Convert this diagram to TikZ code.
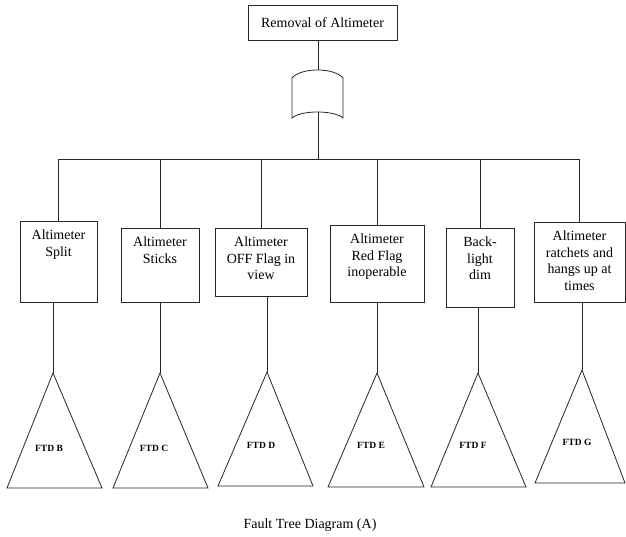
\documentclass[tikz,border=0pt]{standalone}
\usepackage{fontspec}
\setmainfont{Liberation Serif}
\usepackage{tikz}
\usetikzlibrary{positioning, calc}

\begin{document}
\begin{tikzpicture}[x=1pt, y=-1pt, line width=0.8pt, draw=black!85,
    evt/.style={draw, rectangle, inner sep=0pt},
    evtext/.style={anchor=north, yshift=-6pt, inner sep=3pt, align=center, font=\fontsize{14}{16.5}\selectfont},
    ftd/.style={font=\fontsize{9.5}{11}\selectfont\bfseries}]
        \useasboundingbox (0,0) rectangle (626,537);
        % top event and gate
        \node[evt, minimum width=149pt, minimum height=35pt, font=\fontsize{14}{16.5}\selectfont] (top) at (322.5,22.5) {Removal of Altimeter};
        \coordinate (gtop) at (318,70);
        \coordinate (gbot) at (318,112);
        \coordinate (bar) at (318,159);
        \draw (top.south -| gtop) -- (gtop);
        \draw (292,78) .. controls (301,67.3) and (334,67.3) .. (343,78) -- (343,118) .. controls (334,110) and (301,110) .. (292,118) -- cycle;
        \draw (gbot) -- (bar);
        % basic events
        \node[evt, minimum width=77pt, minimum height=81pt] (b1) at (58.5,261.5) {};
        \node[evt, minimum width=78pt, minimum height=74pt] (b2) at (160,265) {};
        \node[evt, minimum width=92pt, minimum height=68pt] (b3) at (261,262) {};
        \node[evt, minimum width=94pt, minimum height=77pt] (b4) at (377,263.5) {};
        \node[evt, minimum width=68pt, minimum height=79pt] (b5) at (480,267.5) {};
        \node[evt, minimum width=91pt, minimum height=80pt] (b6) at (579.5,262) {};
        \node[evtext] (t1) at (b1.north) {Altimeter\\Split};
        \node[evtext] (t2) at (b2.north) {Altimeter\\Sticks};
        \node[evtext] (t3) at (b3.north) {Altimeter\\OFF Flag in\\view};
        \node[evtext] (t4) at (b4.north) {Altimeter\\Red Flag\\inoperable};
        \node[evtext] (t5) at (b5.north) {Back-\\light\\dim};
        \node[evtext] (t6) at (b6.north) {Altimeter\\ratchets and\\hangs up at\\times};
        \draw (b1.north |- bar) -- (b6.north |- bar);
        \draw (b1.north |- bar) -- (b1.north);
        \draw (b2.north |- bar) -- (b2.north);
        \draw (b3.north |- bar) -- (b3.north);
        \draw (b4.north |- bar) -- (b4.north);
        \draw (b5.north |- bar) -- (b5.north);
        \draw (b6.north |- bar) -- (b6.north);
        % transfer triangles
        \coordinate (tB) at (53,373);
        \coordinate (tC) at (160,373);
        \coordinate (tD) at (267,372);
        \coordinate (tE) at (377,373);
        \coordinate (tF) at (478,373);
        \coordinate (tG) at (582,370);
        \draw (tB) -- (7,488) -- (102,488) -- cycle;
        \draw (tC) -- (113,488) -- (208,488) -- cycle;
        \draw (tD) -- (218,486) -- (313,486) -- cycle;
        \draw (tE) -- (328,487) -- (424,487) -- cycle;
        \draw (tF) -- (431,487) -- (526,487) -- cycle;
        \draw (tG) -- (535,483) -- (625,483) -- cycle;
        \draw (b1.south -| tB) -- (tB);
        \draw (b2.south -| tC) -- (tC);
        \draw (b3.south -| tD) -- (tD);
        \draw (b4.south -| tE) -- (tE);
        \draw (b5.south -| tF) -- (tF);
        \draw (b6.south -| tG) -- (tG);
        \node[ftd] (fB) at (49,448) {FTD B};
        \node[ftd] (fC) at (154,448) {FTD C};
        \node[ftd] (fD) at (261,445) {FTD D};
        \node[ftd] (fE) at (371,445) {FTD E};
        \node[ftd] (fF) at (473,445) {FTD F};
        \node[ftd] (fG) at (577,442) {FTD G};
        % caption
        \node[font=\fontsize{14}{16.5}\selectfont] (cap) at (310,525) {Fault Tree Diagram (A)};
    \end{tikzpicture}
\end{document}
